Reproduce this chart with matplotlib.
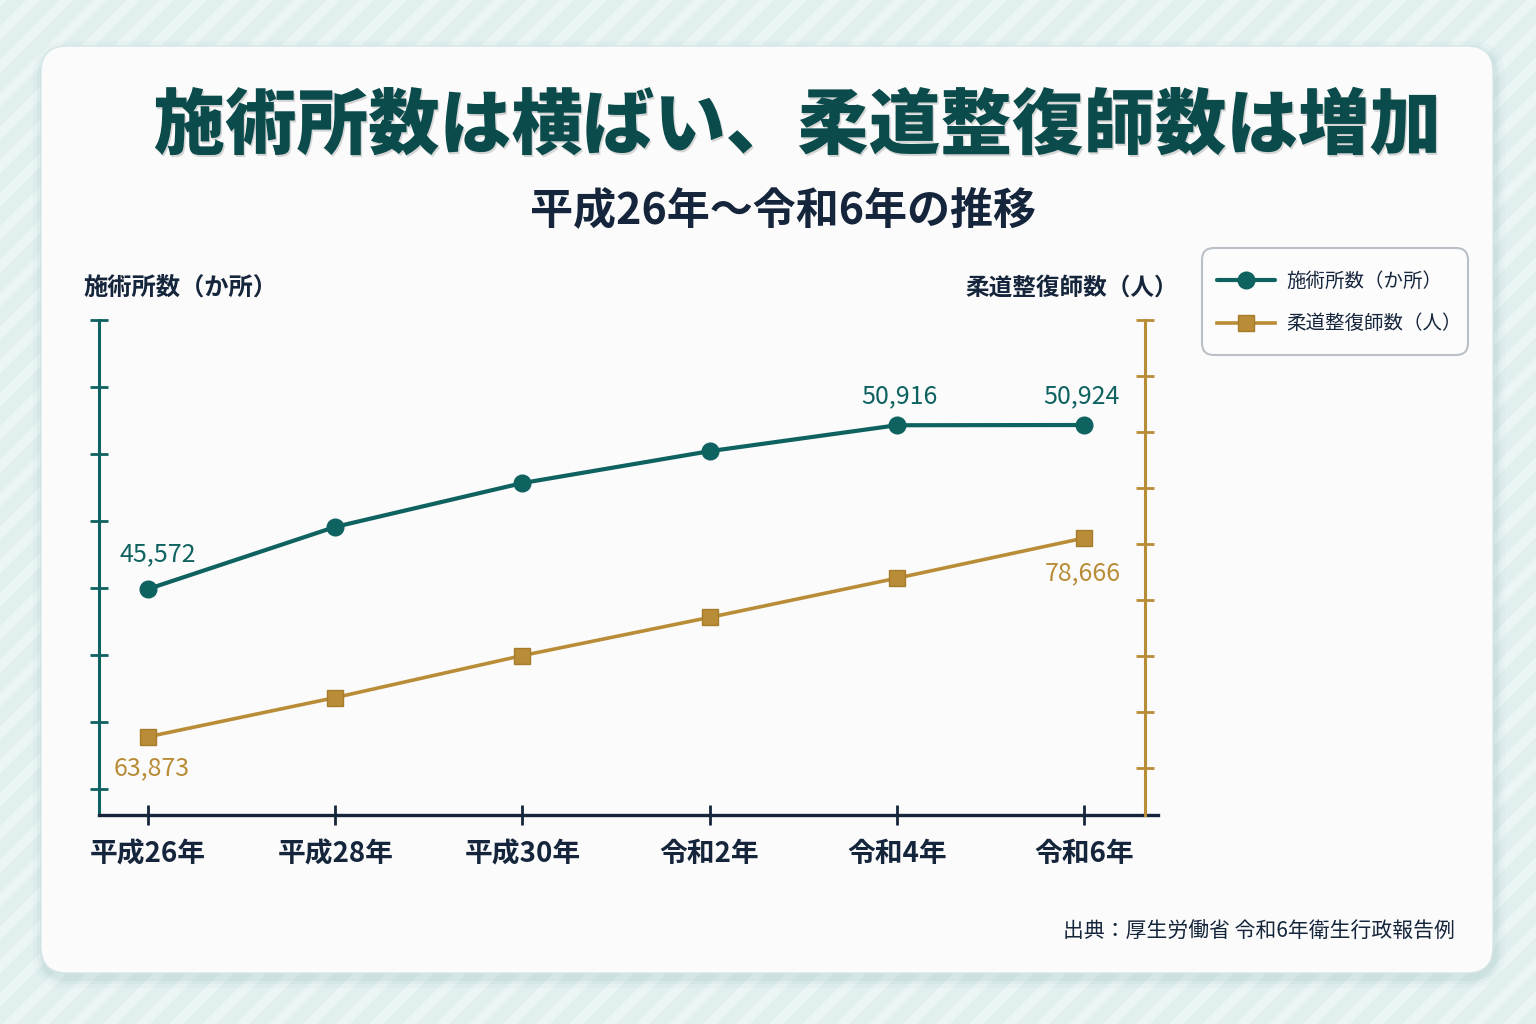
import matplotlib
matplotlib.use('Agg')
import matplotlib.pyplot as plt
from matplotlib.patches import FancyBboxPatch, Rectangle
import matplotlib.patheffects as pe
import numpy as np

plt.rcParams['font.family'] = ['Noto Sans CJK JP', 'DejaVu Sans']

# ---------------- data ----------------
categories = ['平成26年', '平成28年', '平成30年', '令和2年', '令和4年', '令和6年']
clinics = [45572, 47600, 49030, 50070, 50916, 50924]          # 施術所数（か所）
therapists = [63873, 66790, 69920, 72760, 75680, 78666]       # 柔道整復師数（人）
clinic_series_name = '施術所数（か所）'
therapist_series_name = '柔道整復師数（人）'
title = '施術所数は横ばい、柔道整復師数は増加'
subtitle = '平成26年～令和6年の推移'
source = '出典：厚生労働省 令和6年衛生行政報告例'

TEAL = '#0e6260'
TEAL_DARK = '#0b4b4b'
GOLD = '#b98d37'
NAVY = '#15253b'

W, H = 1536, 1024
fig = plt.figure(figsize=(W / 100, H / 100), dpi=100)

# ---------------- background ----------------
plt.rcParams['hatch.linewidth'] = 7
plt.rcParams['hatch.color'] = '#ecf5f5'
bg = fig.add_axes([0, 0, 1, 1], zorder=-10)
bg.set_xlim(0, W)
bg.set_ylim(H, 0)
bg.axis('off')
bg.add_patch(Rectangle((0, 0), W, H, facecolor='#e2efef', edgecolor='#ecf5f5',
                       hatch='/', lw=0))
# card shadow
for pad, a in [(10, 0.05), (6, 0.07), (3, 0.10)]:
    bg.add_patch(FancyBboxPatch((41 - pad + 2, 46 - pad + 5), 1452 + 2 * pad, 927 + 2 * pad,
                                boxstyle=f'round,pad=0,rounding_size={26 + pad}',
                                facecolor='#7fb0b0', edgecolor='none', alpha=a))
bg.add_patch(FancyBboxPatch((41, 46), 1452, 927, boxstyle='round,pad=0,rounding_size=26',
                            facecolor='#fbfbfb', edgecolor='#d6e6e6', lw=1))
# legend box
bg.add_patch(FancyBboxPatch((1202, 248), 266, 107, boxstyle='round,pad=0,rounding_size=12',
                            facecolor='#fcfcfc', edgecolor='#b9c0c7', lw=1.5))

# titles
bg.text(797, 127, title, ha='center', va='center', fontsize=51.5, fontweight='black',
        color=TEAL_DARK,
        path_effects=[pe.withSimplePatchShadow(offset=(1, -1.5), shadow_rgbFace='#000000', alpha=0.15)])
bg.text(783, 210, subtitle, ha='center', va='center', fontsize=31, fontweight='bold', color=NAVY)
bg.text(83, 288, clinic_series_name, ha='left', va='center', fontsize=17.5, fontweight='bold', color=NAVY)
bg.text(1178, 288, therapist_series_name, ha='right', va='center', fontsize=17, fontweight='bold', color=NAVY)
bg.text(1455, 932, source, ha='right', va='center', fontsize=15, color=NAVY)

# ---------------- main axes ----------------
ax_left_px, ax_right_px, ax_top_px, ax_bot_px = 99, 1158, 320, 815
ax = fig.add_axes([ax_left_px / W, 1 - ax_bot_px / H,
                   (ax_right_px - ax_left_px) / W, (ax_bot_px - ax_top_px) / H])
ax.set_facecolor('none')
ax2 = ax.twinx()
ax2.set_facecolor('none')

x = np.arange(len(categories))
ax.set_xlim(-49 / 187.2, len(categories) - 1 + 74 / 187.2)

L_LO, L_HI = 38200, 54350
R_LO, R_HI = 58050, 94900
ax.set_ylim(L_LO, L_HI)
ax2.set_ylim(R_LO, R_HI)
ax.set_yticks(np.linspace(39050, L_HI, 8))
ax2.set_yticks(np.linspace(61550, R_HI, 9))
ax.set_yticklabels([])
ax2.set_yticklabels([])

l1, = ax.plot(x, clinics, color=TEAL, lw=3, marker='o', markersize=12,
              markerfacecolor=TEAL, markeredgecolor=TEAL, label=clinic_series_name,
              solid_capstyle='round', zorder=5, clip_on=False)
l2, = ax2.plot(x, therapists, color=GOLD, lw=2.6, marker='s', markersize=12,
               markerfacecolor=GOLD, markeredgecolor='#a67c2c', markeredgewidth=1,
               label=therapist_series_name, zorder=5, clip_on=False)

# spines
for s in ['top', 'right']:
    ax.spines[s].set_visible(False)
for s in ['top', 'left', 'bottom']:
    ax2.spines[s].set_visible(False)
ax.spines['left'].set_color(TEAL)
ax.spines['left'].set_linewidth(2.2)
ax.spines['bottom'].set_color(NAVY)
ax.spines['bottom'].set_linewidth(2.4)
ax2.spines['right'].set_color(GOLD)
ax2.spines['right'].set_linewidth(2.2)
ax2.spines['right'].set_position(('axes', (1145 - ax_left_px) / (ax_right_px - ax_left_px)))

ax.tick_params(axis='y', direction='inout', length=13, width=2, color=TEAL)
ax2.tick_params(axis='y', direction='inout', length=13, width=2, color=GOLD)
ax.set_xticks(x)
ax.set_xticklabels(categories, fontsize=20, fontweight='bold', color=NAVY)
ax.tick_params(axis='x', direction='inout', length=14, width=2, color=NAVY, pad=11)

# data labels
lab_kw = dict(textcoords='offset points', ha='center', va='center', fontsize=18)
ax.annotate(f'{clinics[0]:,}', (x[0], clinics[0]), xytext=(7, 25), color=TEAL, **lab_kw)
ax.annotate(f'{clinics[4]:,}', (x[4], clinics[4]), xytext=(2, 21), color=TEAL, **lab_kw)
ax.annotate(f'{clinics[5]:,}', (x[5], clinics[5]), xytext=(-2, 21), color=TEAL, **lab_kw)
ax2.annotate(f'{therapists[0]:,}', (x[0], therapists[0]), xytext=(3, -23), color=GOLD, **lab_kw)
ax2.annotate(f'{therapists[5]:,}', (x[5], therapists[5]), xytext=(-1, -25), color=GOLD, **lab_kw)

# legend (frame drawn separately above)
leg = fig.legend([l1, l2], [clinic_series_name, therapist_series_name],
                 loc='upper left', bbox_to_anchor=(1217 / W, 1 - 271 / H),
                 bbox_transform=fig.transFigure, fontsize=14, frameon=False,
                 handlelength=3.0, handletextpad=0.55,
                 borderpad=0, labelspacing=1.1, borderaxespad=0)
for t in leg.get_texts():
    t.set_color(NAVY)

fig.savefig('out.png', dpi=100)
